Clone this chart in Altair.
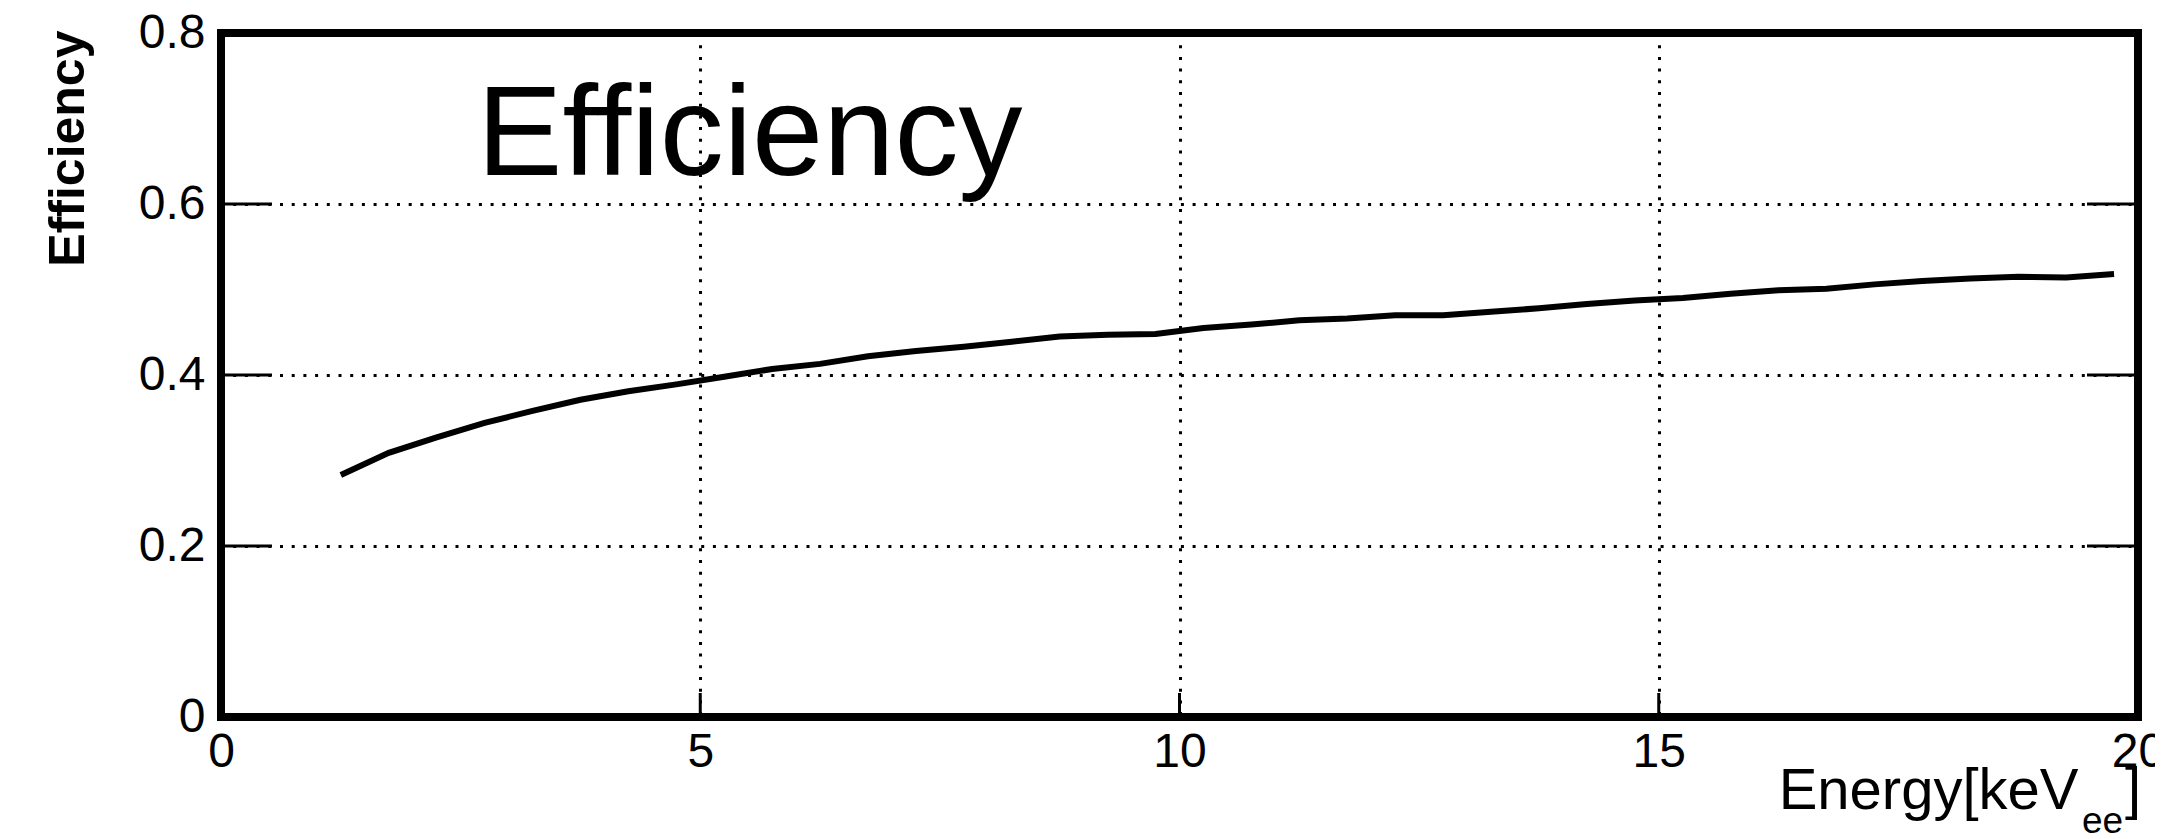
import altair as alt
import pandas as pd

# ---- data ----
energy = [1.25, 1.75, 2.25, 2.75, 3.25, 3.75, 4.25, 4.75, 5.25, 5.75,
          6.25, 6.75, 7.25, 7.75, 8.25, 8.75, 9.25, 9.75, 10.25, 10.75,
          11.25, 11.75, 12.25, 12.75, 13.25, 13.75, 14.25, 14.75, 15.25, 15.75,
          16.25, 16.75, 17.25, 17.75, 18.25, 18.75, 19.25, 19.75]
efficiency = [0.283, 0.309, 0.327, 0.344, 0.358, 0.371, 0.381, 0.389, 0.398, 0.407,
              0.413, 0.422, 0.428, 0.433, 0.439, 0.445, 0.447, 0.448, 0.455, 0.459,
              0.464, 0.466, 0.470, 0.470, 0.474, 0.478, 0.483, 0.487, 0.490, 0.495,
              0.499, 0.501, 0.506, 0.510, 0.513, 0.515, 0.514, 0.518]
x_tick_values = [0, 5, 10, 15, 20]
y_tick_values = [0, 0.2, 0.4, 0.6, 0.8]
inner_x_ticks = [5, 10, 15]
inner_y_ticks = [0.2, 0.4, 0.6]
panel_label = ["Efficiency"]
x_title_main = "Energy[keV"
x_title_sub = ["ee"]
x_title_close = ["]"]
y_title = "Efficiency"

# ---- layout ----
W, H = 1917, 684
FONT = "Liberation Sans"

x_scale = alt.Scale(domain=[0, 20], nice=False, zero=False)
y_scale = alt.Scale(domain=[0, 0.8], nice=False, zero=False)

df = pd.DataFrame({"E": energy, "eff": efficiency})

x_axis = alt.Axis(
    values=x_tick_values, format="~g", grid=True, gridDash=[3, 8.7], gridWidth=3,
    gridColor="black", gridOpacity=1, domain=False, ticks=False, tickSize=0,
    labelFontSize=48, labelPadding=11, labelFlush=False, labelOverlap=False,
    labelColor="black", labelFont=FONT,
    title=x_title_main, titleFontSize=58, titleFontWeight="normal", titleFont=FONT,
    titleColor="black", titleX=1857, titleY=91, titleAlign="right",
    titleBaseline="alphabetic", titleAngle=0,
)
y_axis = alt.Axis(
    values=y_tick_values, format="~g", grid=True, gridDash=[3, 8.7], gridWidth=3,
    gridColor="black", gridOpacity=1, domain=False, ticks=False, tickSize=0,
    labelFontSize=48, labelPadding=16, labelFlush=False, labelOverlap=False,
    labelBaseline="middle", labelColor="black", labelFont=FONT,
    title=y_title, titleFontSize=50, titleFontWeight="bold", titleFont=FONT,
    titleColor="black", titleX=-138, titleY=-3, titleAngle=270,
    titleAlign="right", titleBaseline="alphabetic",
)

line = alt.Chart(df).mark_line(color="black", strokeWidth=6).encode(
    x=alt.X("E:Q", scale=x_scale, axis=x_axis),
    y=alt.Y("eff:Q", scale=y_scale, axis=y_axis),
)

ytick_df = pd.DataFrame({"eff": inner_y_ticks})
xtick_df = pd.DataFrame({"E": inner_x_ticks})

left_ticks = alt.Chart(ytick_df).mark_rule(color="black", strokeWidth=3).encode(
    y=alt.Y("eff:Q", scale=y_scale), x=alt.value(0), x2=alt.value(51)
)
right_ticks = alt.Chart(ytick_df).mark_rule(color="black", strokeWidth=3).encode(
    y=alt.Y("eff:Q", scale=y_scale), x=alt.value(W - 51), x2=alt.value(W)
)
bottom_ticks = alt.Chart(xtick_df).mark_rule(color="black", strokeWidth=3).encode(
    x=alt.X("E:Q", scale=x_scale), y=alt.value(H), y2=alt.value(H - 24)
)

big_label = alt.Chart(pd.DataFrame({"t": panel_label})).mark_text(
    align="left", baseline="alphabetic", fontSize=128, font=FONT, color="black"
).encode(text="t:N", x=alt.value(256), y=alt.value(142))

sub_label = alt.Chart(pd.DataFrame({"t": x_title_sub})).mark_text(
    align="left", baseline="alphabetic", fontSize=37, font=FONT, color="black"
).encode(text="t:N", x=alt.value(1861), y=alt.value(800))

close_label = alt.Chart(pd.DataFrame({"t": x_title_close})).mark_text(
    align="left", baseline="alphabetic", fontSize=58, font=FONT, color="black"
).encode(text="t:N", x=alt.value(1904), y=alt.value(775))

chart = alt.layer(
    line, left_ticks, right_ticks, bottom_ticks, big_label, sub_label, close_label
).properties(
    width=W, height=H,
    autosize=alt.AutoSizeParams(type="none"),
    padding={"left": 213, "top": 25, "right": 17, "bottom": 122},
).configure(
    font=FONT, background="white"
).configure_view(
    stroke="black", strokeWidth=8, strokeOpacity=1, fill="white"
)

chart.save("out.html", embed_options={"renderer": "svg", "actions": False})
